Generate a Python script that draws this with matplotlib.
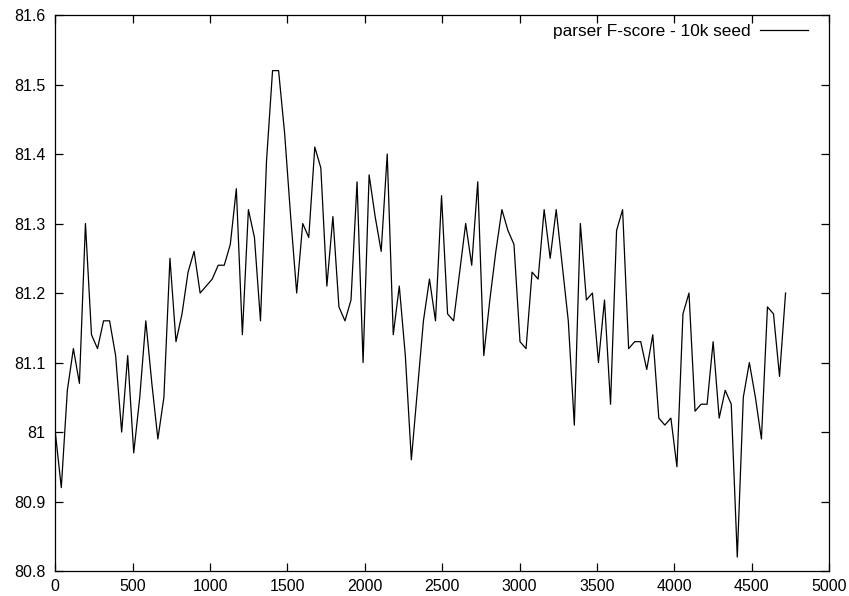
import matplotlib
matplotlib.use("Agg")
import matplotlib.pyplot as plt

plt.rcParams["font.family"] = ["Liberation Sans", "DejaVu Sans"]

# checkpoints (x) and parser F-score (y)
steps = [
    0, 39, 78, 117, 156, 195, 234, 273, 312, 351,
    390, 429, 468, 507, 546, 585, 624, 663, 702, 741,
    780, 819, 858, 897, 936, 975, 1014, 1053, 1092, 1131,
    1170, 1209, 1248, 1287, 1326, 1365, 1404, 1443, 1482, 1521,
    1560, 1599, 1638, 1677, 1716, 1755, 1794, 1833, 1872, 1911,
    1950, 1989, 2028, 2067, 2106, 2145, 2184, 2223, 2262, 2301,
    2340, 2379, 2418, 2457, 2496, 2535, 2574, 2613, 2652, 2691,
    2730, 2769, 2808, 2847, 2886, 2925, 2964, 3003, 3042, 3081,
    3120, 3159, 3198, 3237, 3276, 3315, 3354, 3393, 3432, 3471,
    3510, 3549, 3588, 3627, 3666, 3705, 3744, 3783, 3822, 3861,
    3900, 3939, 3978, 4017, 4056, 4095, 4134, 4173, 4212, 4251,
    4290, 4329, 4368, 4407, 4446, 4485, 4524, 4563, 4602, 4641,
    4680, 4719,
]
fscore = [
    81.00, 80.92, 81.06, 81.12, 81.07, 81.30, 81.14, 81.12, 81.16, 81.16,
    81.11, 81.00, 81.11, 80.97, 81.05, 81.16, 81.07, 80.99, 81.05, 81.25,
    81.13, 81.17, 81.23, 81.26, 81.20, 81.21, 81.22, 81.24, 81.24, 81.27,
    81.35, 81.14, 81.32, 81.28, 81.16, 81.39, 81.52, 81.52, 81.43, 81.31,
    81.20, 81.30, 81.28, 81.41, 81.38, 81.21, 81.31, 81.18, 81.16, 81.19,
    81.36, 81.10, 81.37, 81.31, 81.26, 81.40, 81.14, 81.21, 81.11, 80.96,
    81.06, 81.16, 81.22, 81.16, 81.34, 81.17, 81.16, 81.23, 81.30, 81.24,
    81.36, 81.11, 81.19, 81.26, 81.32, 81.29, 81.27, 81.13, 81.12, 81.23,
    81.22, 81.32, 81.25, 81.32, 81.24, 81.16, 81.01, 81.30, 81.19, 81.20,
    81.10, 81.19, 81.04, 81.29, 81.32, 81.12, 81.13, 81.13, 81.09, 81.14,
    81.02, 81.01, 81.02, 80.95, 81.17, 81.20, 81.03, 81.04, 81.04, 81.13,
    81.02, 81.06, 81.04, 80.82, 81.05, 81.10, 81.05, 80.99, 81.18, 81.17,
    81.08, 81.20,
]
x_ticks = [0, 500, 1000, 1500, 2000, 2500, 3000, 3500, 4000, 4500, 5000]
y_ticks = [80.8, 80.9, 81.0, 81.1, 81.2, 81.3, 81.4, 81.5, 81.6]
y_labels = ["80.8", "80.9", "81", "81.1", "81.2", "81.3", "81.4", "81.5", "81.6"]

fig = plt.figure(figsize=(8.49, 5.96), dpi=100)
ax = fig.add_axes([0.0651, 0.0419, 0.9114, 0.9329])

ax.plot(steps, fscore, color="black", linewidth=0.9, label="parser F-score - 10k seed")

ax.set_xlim(0, 5000)
ax.set_ylim(80.8, 81.6)
ax.set_xticks(x_ticks)
ax.set_xticklabels([str(t) for t in x_ticks])
ax.set_yticks(y_ticks)
ax.set_yticklabels(y_labels)

ax.tick_params(direction="in", top=True, right=True, length=6, width=0.9,
               labelsize=11.5, colors="black")
ax.tick_params(axis="y", pad=7)
ax.tick_params(axis="x", pad=6)
for s in ax.spines.values():
    s.set_linewidth(0.9)
    s.set_color("black")

ax.legend(loc="center right", bbox_to_anchor=(0.9728, 0.971), frameon=False,
          markerfirst=False, handlelength=2.8, handletextpad=0.55,
          borderpad=0, borderaxespad=0, fontsize=12.4)

fig.savefig("out.png", dpi=100)
